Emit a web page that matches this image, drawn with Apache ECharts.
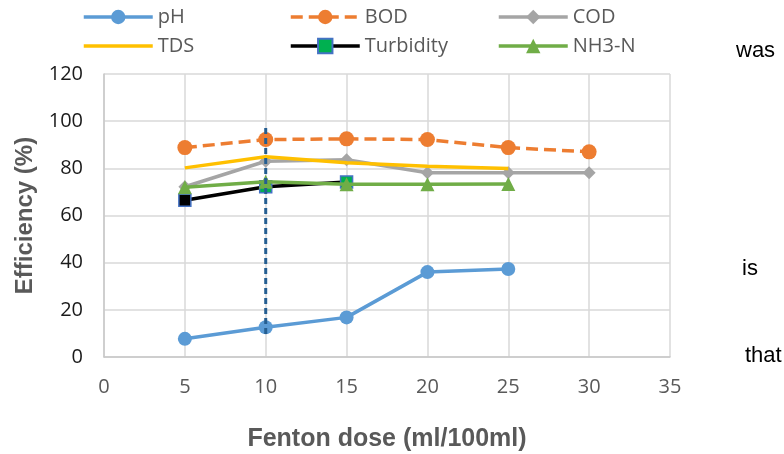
<!DOCTYPE html>
<html>
<head>
<meta charset="utf-8">
<script src="https://cdn.jsdelivr.net/npm/echarts@6/dist/echarts.min.js"></script>
<style>
html,body{margin:0;padding:0;background:#fff;}
#chart{width:784px;height:454px;}
</style>
</head>
<body>
<div id="chart"></div>
<script>
// ---- data ----
var doses = [5, 10, 15, 20, 25, 30];
var xTicks = [0, 5, 10, 15, 20, 25, 30, 35];
var yTicks = [0, 20, 40, 60, 80, 100, 120];
var pH = [7.7, 12.6, 16.8, 36.0, 37.3];
var BOD = [88.8, 92.2, 92.5, 92.2, 88.8, 87.0];
var COD = [72.2, 83.0, 83.6, 78.1, 78.1, 78.1];
var TDS = [80.2, 84.9, 82.4, 80.9, 79.9];
var Turbidity = [66.5, 72.2, 74.2];
var NH3N = [72.0, 74.3, 73.2, 73.3, 73.4];
var dropX = [10, 10];
var dropY = [9.7, 98];
var sideWords = ['was', 'is', 'that'];

function pairs(vals) {
  return vals.map(function (v, i) { return [doses[i], v]; });
}

var chart = echarts.init(document.getElementById('chart'), null, {renderer: 'canvas'});

var legendFont = {fontFamily: 'Open Sans', fontSize: 20, color: '#595959', lineHeight: 22};
function legendAt(item, left, top) {
  return {
    data: [item], left: left, top: top, padding: 0,
    itemWidth: 69, itemHeight: 18, itemGap: 0,
    lineStyle: {width: 3.5},
    textStyle: legendFont, selectedMode: false
  };
}

var turbData = pairs(Turbidity).map(function (p, i) {
  return {
    value: p,
    itemStyle: {color: i === 0 ? '#000000' : '#00b050', borderColor: '#4472c4', borderWidth: 1.5}
  };
});

var LW = 3.5;
var option = {
  backgroundColor: '#ffffff',
  animation: false,
  legend: [
    legendAt('pH', 82, 6),
    legendAt('BOD', 289, 6),
    legendAt('COD', 497, 6),
    legendAt({name: 'TDS', itemStyle: {opacity: 0}}, 82, 35),
    legendAt('Turbidity', 289, 35),
    legendAt('NH3-N', 497, 35)
  ],
  grid: {left: 104, right: 114, top: 74, bottom: 97, containLabel: false, outerBoundsMode: 'none'},
  xAxis: {
    type: 'value', min: xTicks[0], max: xTicks[xTicks.length - 1], interval: 5,
    name: 'Fenton dose (ml/100ml)', nameLocation: 'middle', nameGap: 70,
    nameTextStyle: {fontFamily: 'Liberation Sans', fontWeight: 'bold', fontSize: 25, color: '#595959'},
    axisLine: {show: true, lineStyle: {color: '#c8c8c8', width: 1.5}},
    axisTick: {show: false},
    axisLabel: {fontFamily: 'Open Sans', fontSize: 20, color: '#595959', margin: 20},
    splitLine: {show: true, lineStyle: {color: '#d9d9d9', width: 1.5}}
  },
  yAxis: {
    type: 'value', min: yTicks[0], max: yTicks[yTicks.length - 1], interval: 20,
    name: 'Efficiency (%)', nameLocation: 'middle', nameGap: 62, nameRotate: 90,
    nameTextStyle: {fontFamily: 'Liberation Sans', fontWeight: 'bold', fontSize: 24, color: '#595959'},
    axisLine: {show: true, lineStyle: {color: '#c8c8c8', width: 1.5}},
    axisTick: {show: false},
    axisLabel: {fontFamily: 'Open Sans', fontSize: 20, color: '#1a1a1a', margin: 21},
    splitLine: {show: true, lineStyle: {color: '#d9d9d9', width: 1.5}}
  },
  series: [
    {
      name: 'pH', type: 'line', data: pairs(pH), symbol: 'circle', symbolSize: 14,
      lineStyle: {color: '#5b9bd5', width: LW}, itemStyle: {color: '#5b9bd5'}, z: 2
    },
    {
      name: 'BOD', type: 'line', data: pairs(BOD), symbol: 'circle', symbolSize: 15,
      lineStyle: {color: '#ed7d31', width: LW, type: [12, 6]}, itemStyle: {color: '#ed7d31'}, z: 3
    },
    {
      name: 'COD', type: 'line', data: pairs(COD), symbol: 'diamond', symbolSize: 13,
      lineStyle: {color: '#a5a5a5', width: LW}, itemStyle: {color: '#a5a5a5'}, z: 4
    },
    {
      name: 'TDS', type: 'line', data: pairs(TDS), symbol: 'none',
      lineStyle: {color: '#ffc000', width: LW}, itemStyle: {color: '#ffc000'}, z: 5
    },
    {
      name: 'Turbidity', type: 'line', data: turbData, symbol: 'rect', symbolSize: 12,
      lineStyle: {color: '#000000', width: LW},
      itemStyle: {color: '#00b050', borderColor: '#4472c4', borderWidth: 1.5}, z: 6
    },
    {
      name: 'NH3-N', type: 'line', data: pairs(NH3N), symbol: 'triangle', symbolSize: 14,
      lineStyle: {color: '#70ad47', width: LW}, itemStyle: {color: '#70ad47'}, z: 7
    },
    {
      name: 'drop', type: 'line', data: dropX.map(function (x, i) { return [x, dropY[i]]; }),
      symbol: 'none', lineStyle: {color: '#255e91', width: 3, type: [6, 4]}, z: 8, silent: true
    }
  ],
  graphic: [
    {type: 'text', left: 736, top: 40, style: {text: sideWords[0], fontFamily: 'Liberation Sans', fontSize: 22, fill: '#000'}},
    {type: 'text', left: 742, top: 258, style: {text: sideWords[1], fontFamily: 'Liberation Sans', fontSize: 22, fill: '#000'}},
    {type: 'text', left: 745, top: 345, style: {text: sideWords[2], fontFamily: 'Liberation Sans', fontSize: 22, fill: '#000'}}
  ]
};
chart.setOption(option);
</script>
</body>
</html>
